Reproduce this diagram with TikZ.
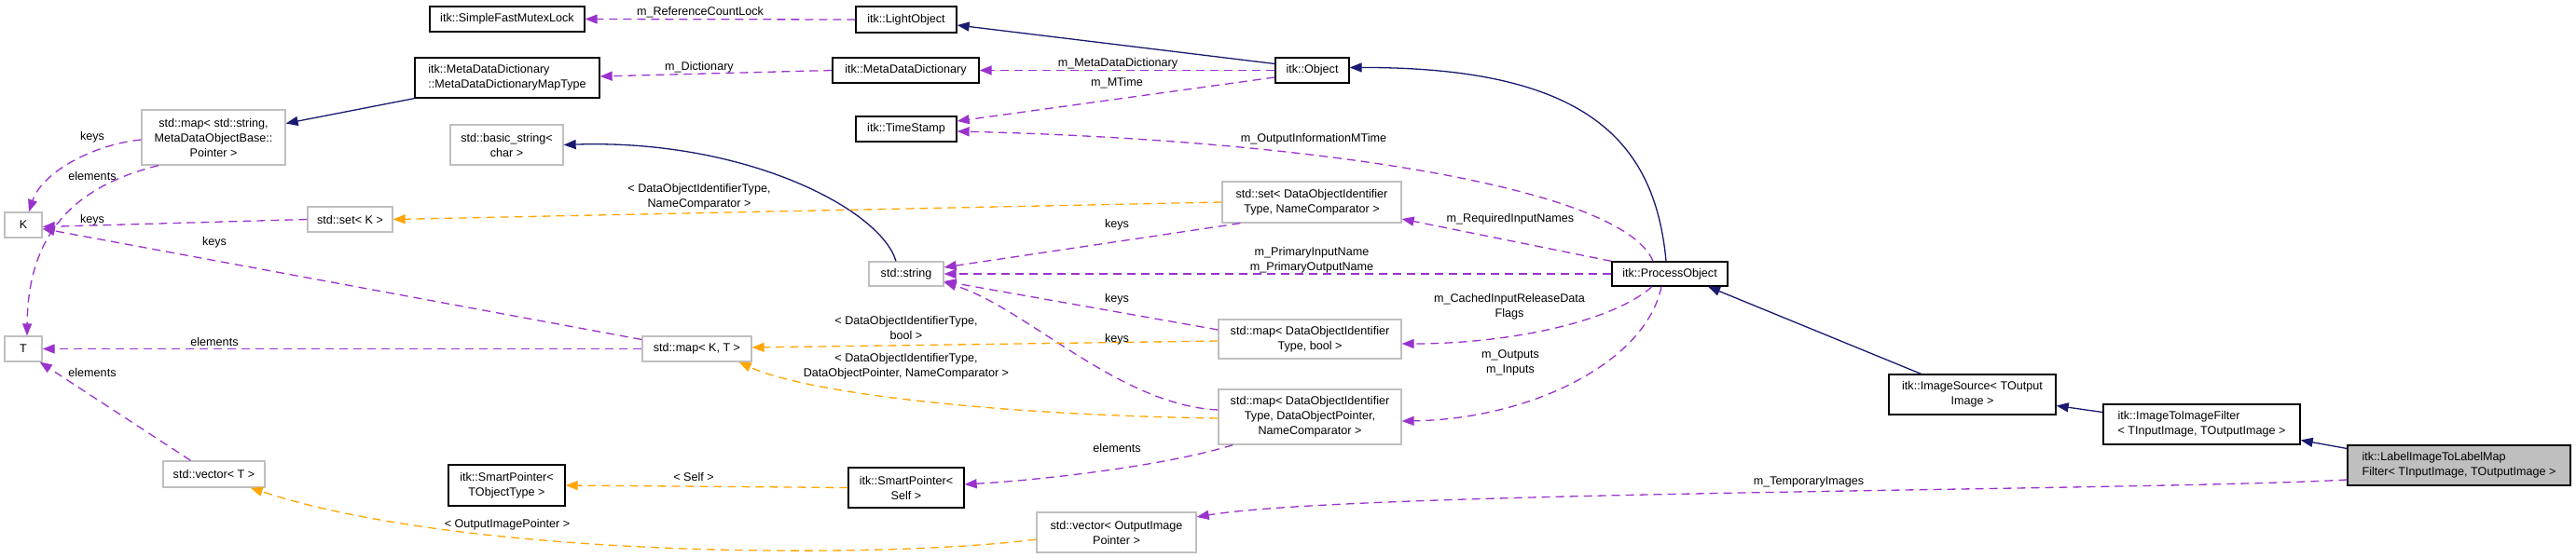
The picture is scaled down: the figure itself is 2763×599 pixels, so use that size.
\documentclass[tikz,border=0pt]{standalone}
\usepackage{fontspec}
\setmainfont{Liberation Sans}
\usetikzlibrary{arrows.meta}

\definecolor{inhblue}{HTML}{191970}
\definecolor{usepurple}{HTML}{9A32CD}
\definecolor{tplorange}{HTML}{FFA500}
\definecolor{boxgray}{HTML}{BFBFBF}

\tikzset{
  cls/.style={draw=black, fill=white, line width=1.3pt, inner sep=0pt, align=center},
  ext/.style={cls, draw=boxgray},
  lbl/.style={inner sep=0pt, align=center},
  inh/.style={inhblue, line width=1.3pt, -{Triangle[length=13pt,width=10pt]}},
  usage/.style={usepurple, line width=1.3pt, dash pattern=on 9pt off 6pt, -{Triangle[length=13pt,width=10pt]}},
  tpl/.style={usage, tplorange},
}

\begin{document}
\begin{tikzpicture}[x=1pt, y=-1pt, every node/.style={font=\fontsize{12.6}{16}\selectfont}]
      \useasboundingbox (0,0) rectangle (2763,599);
      \node[cls, minimum width=166pt, minimum height=27pt] (mutex) at (544,20.5) {itk::SimpleFastMutexLock};
      \node[cls, align=left, minimum width=198pt, minimum height=43pt] (maptype) at (544,83.5) {itk::MetaDataDictionary\\::MetaDataDictionaryMapType};
      \node[ext, minimum width=154pt, minimum height=59pt] (strmap) at (229,147.5) {std::map< std::string,\\MetaDataObjectBase::\\Pointer >};
      \node[ext, minimum width=121pt, minimum height=43pt] (basicstr) at (543.5,155.5) {std::basic\_string<\\char >};
      \node[ext, minimum width=40pt, minimum height=27pt] (K) at (25,241.5) {K};
      \node[ext, minimum width=91pt, minimum height=27pt] (setK) at (375.5,235.5) {std::set< K >};
      \node[ext, minimum width=40pt, minimum height=27pt] (T) at (25,374.5) {T};
      \node[ext, minimum width=109pt, minimum height=28pt] (vecT) at (229.5,509) {std::vector< T >};
      \node[cls, minimum width=125pt, minimum height=44pt] (spobj) at (543.5,521) {itk::SmartPointer<\\TObjectType >};
      \node[cls, minimum width=108pt, minimum height=28pt] (light) at (972,21) {itk::LightObject};
      \node[cls, minimum width=157pt, minimum height=27pt] (mdd) at (971.5,75.5) {itk::MetaDataDictionary};
      \node[cls, minimum width=79pt, minimum height=27pt] (object) at (1407.5,75.5) {itk::Object};
      \node[cls, minimum width=108pt, minimum height=27pt] (stamp) at (972,138.5) {itk::TimeStamp};
      \node[ext, minimum width=192pt, minimum height=44pt] (setdoi) at (1407,217) {std::set< DataObjectIdentifier\\Type, NameComparator >};
      \node[ext, minimum width=80pt, minimum height=26pt] (string) at (972,294) {std::string};
      \node[ext, minimum width=117pt, minimum height=27pt] (mapKT) at (747.5,374.5) {std::map< K, T >};
      \node[ext, minimum width=196pt, minimum height=42pt] (mapbool) at (1405,364) {std::map< DataObjectIdentifier\\Type, bool >};
      \node[ext, minimum width=196pt, minimum height=59pt] (mapptr) at (1405,447.5) {std::map< DataObjectIdentifier\\Type, DataObjectPointer,\\NameComparator >};
      \node[cls, minimum width=124pt, minimum height=43pt] (spself) at (972,523.5) {itk::SmartPointer<\\Self >};
      \node[ext, minimum width=171pt, minimum height=43pt] (vecout) at (1197.5,571.5) {std::vector< OutputImage\\Pointer >};
      \node[cls, minimum width=124pt, minimum height=26pt] (process) at (1791,294) {itk::ProcessObject};
      \node[cls, minimum width=179pt, minimum height=43pt] (imgsrc) at (2115.5,423.5) {itk::ImageSource< TOutput\\Image >};
      \node[cls, align=left, minimum width=211pt, minimum height=43pt] (i2i) at (2361.5,455.5) {itk::ImageToImageFilter\\< TInputImage, TOutputImage >};
      \node[cls, fill=boxgray, align=left, minimum width=239pt, minimum height=43pt] (labelmap) at (2637.5,499.5) {itk::LabelImageToLabelMap\\Filter< TInputImage, TOutputImage >};

      \draw[inh] ([yshift=7pt]object.west) -- ([yshift=-6pt]light.east);
      \draw[inh] ([xshift=-4pt]process.north) .. controls (1775,150) and (1700,72) .. ([yshift=3pt]object.east);
      \draw[inh] ([xshift=-55pt]imgsrc.north) -- ([xshift=41pt]process.south);
      \draw[inh] ([yshift=13pt]i2i.west) -- ([yshift=-12pt]imgsrc.east);
      \draw[inh] ([yshift=18pt]labelmap.west) -- ([yshift=-17pt]i2i.east);
      \draw[inh] (maptype.south west) -- ([yshift=15pt]strmap.east);
      \draw[inh] ([xshift=-11pt]string.north) .. controls (945,225) and (800,149) .. (basicstr.east);

      \draw[usage] (light.west) -- (mutex.east);
      \draw[usage] (mdd.west) -- ([yshift=1.5pt]maptype.east);
      \draw[usage] (object.west) -- (mdd.east);
      \draw[usage] ([yshift=-7.5pt]object.west) -- ([yshift=8.5pt]stamp.east);
      \draw[usage] ([xshift=-18pt]process.north) .. controls (1740,200) and (1400,150) .. ([yshift=-2.5pt]stamp.east);
      \draw[usage] (process.north west) -- ([yshift=-18pt]setdoi.east);
      \draw[usage] (process.west) -- (string.east);
      \draw[usage] ([xshift=-19pt]process.south) .. controls (1730,345) and (1620,369) .. ([yshift=-5pt]mapbool.east);
      \draw[usage] ([xshift=-9pt]process.south) .. controls (1765,390) and (1640,450) .. ([yshift=-4.5pt]mapptr.east);
      \draw[usage] ([xshift=20pt]setdoi.south west) -- ([yshift=7pt]string.east);
      \draw[usage] ([yshift=10pt]mapbool.west) -- ([yshift=-8pt]string.east);
      \draw[usage] ([yshift=7.5pt]mapptr.west) .. controls (1200,435) and (1100,330) .. ([yshift=-9pt]string.east);
      \draw[usage] ([xshift=16pt]mapptr.south west) .. controls (1250,500) and (1120,515) .. ([yshift=3.5pt]spself.east);
      \draw[usage] ([yshift=10pt]mapKT.west) -- ([yshift=-4pt]K.east);
      \draw[usage] (mapKT.west) -- (T.east);
      \draw[usage] (setK.west) -- ([yshift=-2pt]K.east);
      \draw[usage] ([yshift=-2.5pt]strmap.west) .. controls (100,155) and (45,185) .. ([xshift=6pt]K.north);
      \draw[usage] ([xshift=-59pt]strmap.south) .. controls (80,200) and (30,250) .. ([xshift=4pt]T.north);
      \draw[usage] ([xshift=-25pt]vecT.north) -- ([xshift=-3pt]T.south east);
      \draw[usage] ([yshift=-15.5pt]labelmap.west) .. controls (2300,527) and (1450,527) .. ([yshift=16.5pt]vecout.east);

      \draw[tpl] (setdoi.west) -- (setK.east);
      \draw[tpl] ([yshift=-2pt]mapbool.west) -- ([yshift=1.5pt]mapKT.east);
      \draw[tpl] ([yshift=-1.5pt]mapptr.west) .. controls (1050,445) and (860,420) .. ([xshift=-14pt]mapKT.south east);
      \draw[tpl] (spself.west) -- (spobj.east);
      \draw[tpl] ([yshift=-7.5pt]vecout.west) .. controls (950,600) and (500,600) .. ([xshift=-16pt]vecT.south east);

      \node[lbl] (lRefLock) at (751,13) {m\_ReferenceCountLock};
      \node[lbl] (lDict) at (750,72) {m\_Dictionary};
      \node[lbl] (lMetaDict) at (1199,68) {m\_MetaDataDictionary};
      \node[lbl] (lMTime) at (1198,89) {m\_MTime};
      \node[lbl] (lOutMTime) at (1409,149) {m\_OutputInformationMTime};
      \node[lbl] (lReqNames) at (1620,235) {m\_RequiredInputNames};
      \node[lbl] (lPrimary) at (1407,279) {m\_PrimaryInputName\\m\_PrimaryOutputName};
      \node[lbl] (lCached) at (1619,329) {m\_CachedInputReleaseData\\Flags};
      \node[lbl] (lInOut) at (1620,389) {m\_Outputs\\m\_Inputs};
      \foreach \y in {241,321,364}
        \node[lbl] (lKeys\y) at (1198,\y) {keys};
      \node[lbl] (lElemSelf) at (1198,481) {elements};
      \node[lbl] (lSetTpl) at (750,211) {< DataObjectIdentifierType,\\NameComparator >};
      \node[lbl] (lBoolTpl) at (972,352) {< DataObjectIdentifierType,\\bool >};
      \node[lbl] (lPtrTpl) at (972,393) {< DataObjectIdentifierType,\\DataObjectPointer, NameComparator >};
      \node[lbl] (lKeysKT) at (230,260) {keys};
      \node[lbl] (lElemKT) at (230,367) {elements};
      \node[lbl] (lKeysSet) at (99,236) {keys};
      \node[lbl] (lKeysStr) at (99,147) {keys};
      \node[lbl] (lElemStr) at (99,189) {elements};
      \node[lbl] (lElemVec) at (99,400) {elements};
      \node[lbl] (lSelf) at (744,512) {< Self >};
      \node[lbl] (lOutPtr) at (544,563) {< OutputImagePointer >};
      \node[lbl] (lTemp) at (1940,517) {m\_TemporaryImages};
    \end{tikzpicture}
\end{document}
